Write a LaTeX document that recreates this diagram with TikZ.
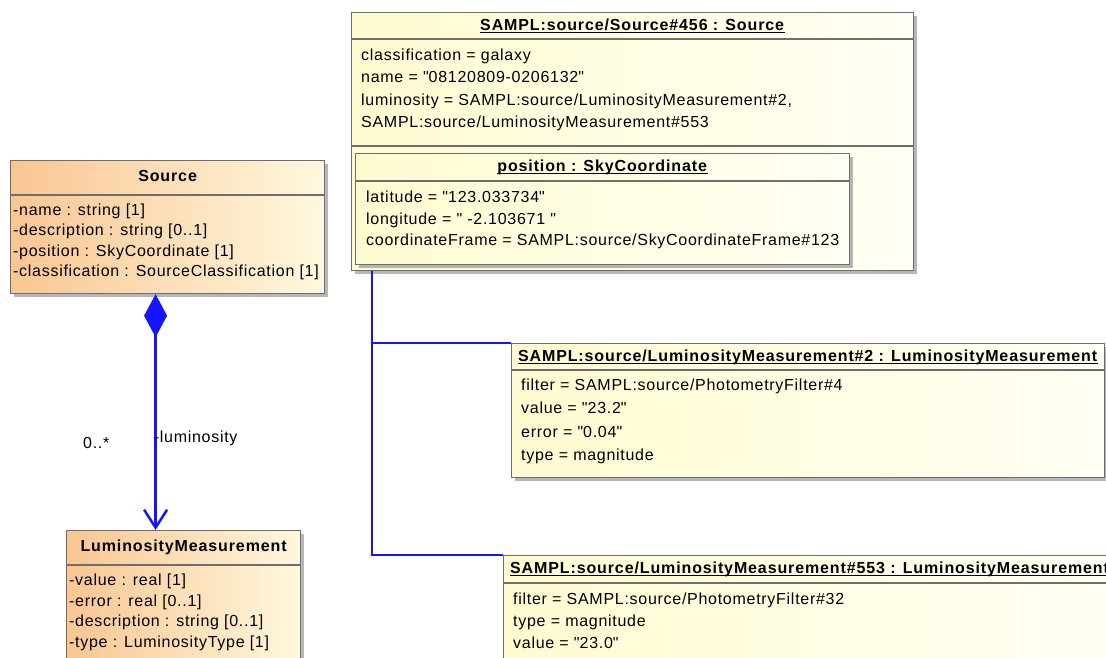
\documentclass[tikz,border=0pt]{standalone}
\usepackage{fontspec}
\setmainfont{Liberation Sans}[LetterSpace=4.5,BoldFeatures={LetterSpace=5.5}]
\usetikzlibrary{arrows.meta,shadows,positioning}
\definecolor{classL}{RGB}{249,198,146}
\definecolor{classR}{RGB}{255,248,222}
\definecolor{objL}{RGB}{255,251,208}
\definecolor{objR}{RGB}{255,255,244}
\definecolor{framegray}{RGB}{110,110,110}
\definecolor{assocblue}{RGB}{20,20,255}
\newcommand{\objtitle}[1]{\underline{\smash{\textbf{#1}}}}
\newcommand{\dq}{\textquotedbl}

\begin{document}
\begin{tikzpicture}[x=1pt,y=-1pt,
  font=\fontsize{16}{18}\selectfont,
  umlbox/.style={draw=framegray,line width=1.2pt,anchor=north west,inner sep=0pt,
    drop shadow={shadow xshift=3pt,shadow yshift=-3pt,fill=black!40,opacity=0.7}},
  classbox/.style={umlbox,left color=classL,right color=classR},
  objbox/.style={umlbox,left color=objL,right color=objR},
  boxtitle/.style={inner sep=0pt,text height=12pt,text depth=3pt,font=\fontsize{16}{18}\selectfont\bfseries},
  attrline/.style={anchor=west,inner sep=0pt,text height=12pt,text depth=3pt},
  rulesep/.style={draw=framegray,line width=1.2pt},
  assocline/.style={draw=assocblue,line width=2.5pt}]
  \useasboundingbox (0,0) rectangle (1106,658);
  \clip (0,0) rectangle (1106,658);

  % class Source
  \node[classbox,minimum width=314pt,minimum height=133pt] (src) at (10,160) {};
  \draw[rulesep] ([yshift=-35pt]src.north west) -- ([yshift=-35pt]src.north east);
  \node[boxtitle] (srct) at ([yshift=-17pt]src.north) {Source};
  \foreach \txt [count=\i] in {{-name : string [1]},{-description : string [0..1]},
      {-position : SkyCoordinate [1]},{-classification : SourceClassification [1]}}
    \node[attrline] (srca\i) at (13,{190.6+20.4*\i}) {\txt};

  % class LuminosityMeasurement
  \node[classbox,minimum width=234pt,minimum height=140pt] (lm) at (66,530) {};
  \draw[rulesep] ([yshift=-35pt]lm.north west) -- ([yshift=-35pt]lm.north east);
  \node[boxtitle] (lmt) at ([yshift=-17pt]lm.north) {LuminosityMeasurement};
  \foreach \txt [count=\i] in {{-value : real [1]},{-error : real [0..1]},
      {-description : string [0..1]},{-type : LuminosityType [1]}}
    \node[attrline] (lma\i) at (69,{560.3+20.7*\i}) {\txt};

  % composition
  \draw[assocline,{Diamond[length=43pt,width=23pt]}-{Straight Barb[length=18pt,width=23pt]}]
    ([xshift=-12pt]src.south) -- ([xshift=-28pt]lm.north)
    node[pos=0.61,right,inner sep=0pt,xshift=-3pt] (rolelbl) {-luminosity}
    node[pos=0.63,left,inner sep=0pt,xshift=-45pt] (multlbl) {0..*};

  % instance Source#456
  \node[objbox,minimum width=562pt,minimum height=258pt] (obj) at (351,12) {};
  \draw[rulesep] ([yshift=-27pt]obj.north west) -- ([yshift=-27pt]obj.north east);
  \node[boxtitle] (objt) at ([yshift=-14pt]obj.north) {\objtitle{SAMPL:source/Source\#456 : Source}};
  \foreach \txt [count=\i] in {{classification = galaxy},{name = \dq08120809-0206132\dq},
      {luminosity = SAMPL:source/LuminosityMeasurement\#2,},{SAMPL:source/LuminosityMeasurement\#553}}
    \node[attrline] (obja\i) at (361,{33.7+22.3*\i}) {\txt};
  \draw[rulesep] ([yshift=-134pt]obj.north west) -- ([yshift=-134pt]obj.north east);

  % slot position
  \node[objbox,minimum width=494pt,minimum height=111pt] (pos) at (355,153) {};
  \draw[rulesep] ([yshift=-28pt]pos.north west) -- ([yshift=-28pt]pos.north east);
  \node[boxtitle] (post) at ([yshift=-14pt]pos.north) {\objtitle{position : SkyCoordinate}};
  \foreach \txt [count=\i] in {{latitude = \dq123.033734\dq},{longitude = \dq\ -2.103671 \dq},
      {coordinateFrame = SAMPL:source/SkyCoordinateFrame\#123}}
    \node[attrline] (posa\i) at (366,{176.5+21.5*\i}) {\txt};

  % links
  \draw[assocline] ([xshift=21pt]obj.south west) |- (511,343) coordinate (m2corner);
  \draw[assocline] ([xshift=21pt]obj.south west) |- (503,555) coordinate (m553corner);

  % instance LuminosityMeasurement#2
  \node[objbox,minimum width=593pt,minimum height=134pt] (m2) at (m2corner) {};
  \draw[rulesep] ([yshift=-27pt]m2.north west) -- ([yshift=-27pt]m2.north east);
  \node[boxtitle] (m2t) at ([yshift=-14pt]m2.north) {\objtitle{SAMPL:source/LuminosityMeasurement\#2 : LuminosityMeasurement}};
  \foreach \txt [count=\i] in {{filter = SAMPL:source/PhotometryFilter\#4},{value = \dq23.2\dq},
      {error = \dq0.04\dq},{type = magnitude}}
    \node[attrline] (m2a\i) at (521,{363+23.2*\i}) {\txt};

  % instance LuminosityMeasurement#553
  \node[objbox,minimum width=606pt,minimum height=130pt] (m553) at (m553corner) {};
  \draw[rulesep] ([yshift=-28pt]m553.north west) -- ([yshift=-28pt]m553.north east);
  \node[boxtitle,anchor=west] (m553t) at ([xshift=7pt,yshift=-14pt]m553.north west) {\objtitle{SAMPL:source/LuminosityMeasurement\#553 : LuminosityMeasurement}};
  \foreach \txt [count=\i] in {{filter = SAMPL:source/PhotometryFilter\#32},{type = magnitude},
      {value = \dq23.0\dq}}
    \node[attrline] (m553a\i) at (513,{578+22*\i}) {\txt};
\end{tikzpicture}
\end{document}
